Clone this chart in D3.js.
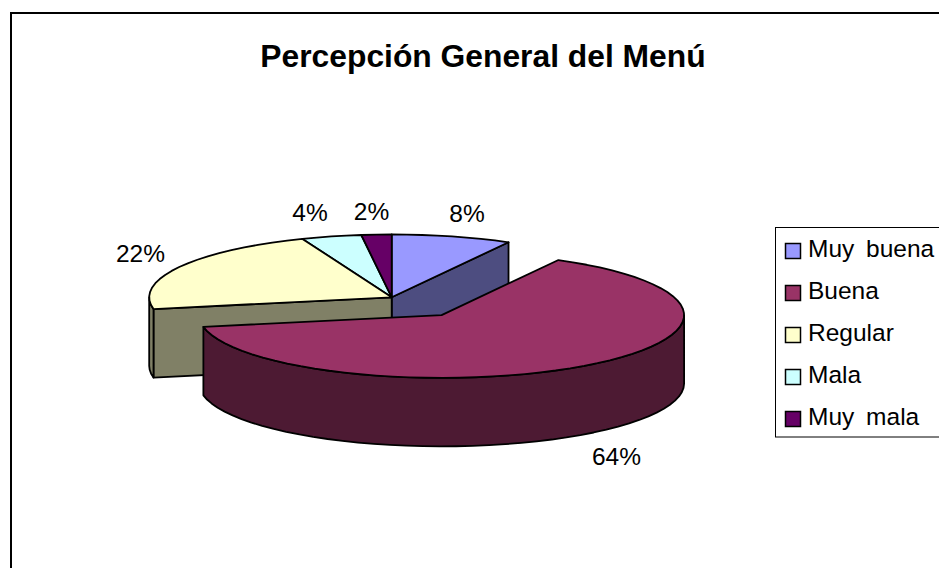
<!DOCTYPE html>
<html><head><meta charset="utf-8">
<script src="https://cdnjs.cloudflare.com/ajax/libs/d3/7.8.5/d3.min.js"></script>
<style>html,body{margin:0;padding:0;background:#fff;overflow:hidden}svg{display:block}text{font-family:"Liberation Sans",Arial,sans-serif;fill:#000}</style>
</head><body><svg id="c" width="939" height="568"></svg>
<script>
const chartTitle = "Percepción General del Menú";
const categories = ["Muy buena","Buena","Regular","Mala","Muy mala"];
const values = [8,64,22,4,2];
const topColors = ["#9999FF","#993366","#FFFFCC","#CCFFFF","#660066"];
const sideColors = ["#4D4D80","#4D1A33","#808066","#668080","#330033"];

// layout (kept apart from the data)
const cx=391.7, cy=297.3, rx=242.5, ry=62.8, depth=68.5, explode=0.35;
const labelOffsets = [[467,222],[616.5,465],[140.5,262],[310,221],[371.5,220]];

const svg=d3.select("#c");
const sx=d3.scaleLinear().domain([-1,1]).range([cx-rx,cx+rx]);
const sy=d3.scaleLinear().domain([-1,1]).range([cy-ry,cy+ry]);
const pie=d3.pie().sort(null).value(d=>d)(values);
const line=d3.line().x(d=>d[0]).y(d=>d[1]);
const STEP=4*Math.PI/180;

function off(a){ const m=(a.startAngle+a.endAngle)/2; return a.data===64?[explode*Math.sin(m),-explode*Math.cos(m)]:[0,0]; }
function px(a,ang,r,dz){ const o=off(a); return [sx(o[0]+r*Math.sin(ang)), sy(o[1]-r*Math.cos(ang))+(dz||0)]; }
function rim(a,from,to,dz){ const n=Math.max(2,Math.ceil((to-from)/STEP)); return d3.range(n+1).map(i=>px(a,from+(to-from)*i/n,1,dz)); }
const stroke=(s)=>s.attr("stroke","#000").attr("stroke-width",1.8).attr("stroke-linejoin","round");

svg.append("rect").attr("x",11).attr("y",13).attr("width",1000).attr("height",1000).attr("fill","#fff").attr("stroke","#000").attr("stroke-width",2);

const g=svg.append("g");
const drawOrder=[0,3,4,2,1];
drawOrder.forEach(i=>{
  const a=pie[i];
  if(i===0){
    const t=px(a,a.endAngle,1), c=px(a,0,0);
    stroke(g.append("path")).attr("fill",sideColors[i]).attr("d",line([c,t,[t[0],t[1]+depth],[c[0],c[1]+depth]])+"Z");
  }
  if(i===2){
    const t=px(a,a.startAngle,1), c=px(a,0,0);
    stroke(g.append("path")).attr("fill",sideColors[i]).attr("d",line([t,c,[c[0],c[1]+depth],[t[0],t[1]+depth]])+"Z");
  }
  const from=Math.max(a.startAngle,Math.PI/2), to=Math.min(a.endAngle,Math.PI*1.5);
  if(to>from){
    const top=rim(a,from,to,0), bot=rim(a,from,to,depth).reverse();
    stroke(g.append("path")).attr("fill",sideColors[i]).attr("d",line(top.concat(bot))+"Z");
  }
  const c=px(a,0,0);
  stroke(g.append("path")).attr("fill",topColors[i]).attr("d",line([c].concat(rim(a,a.startAngle,a.endAngle,0)))+"Z");
});

pie.forEach((a,i)=>{
  svg.append("text").attr("x",labelOffsets[i][0]).attr("y",labelOffsets[i][1]).attr("text-anchor","middle").attr("font-size",24.5).text(d3.format(".0%")(a.data/d3.sum(values)));
});

svg.append("text").attr("x",483).attr("y",67).attr("text-anchor","middle").attr("font-size",31.8).attr("font-weight","bold").text(chartTitle);

const ly=d3.scalePoint().domain(categories).range([249,417]);
svg.append("rect").attr("x",775.5).attr("y",227.5).attr("width",300).attr("height",209.5).attr("fill","#fff").attr("stroke","#000").attr("stroke-width",1);
categories.forEach((c,i)=>{
  svg.append("rect").attr("x",785.5).attr("y",ly(c)-5.5).attr("width",15).attr("height",15).attr("fill",topColors[i]).attr("stroke","#000").attr("stroke-width",1.5);
  svg.append("text").attr("x",808).attr("y",ly(c)+8).attr("font-size",24.5).attr("word-spacing",5).text(c);
});
</script></body></html>
